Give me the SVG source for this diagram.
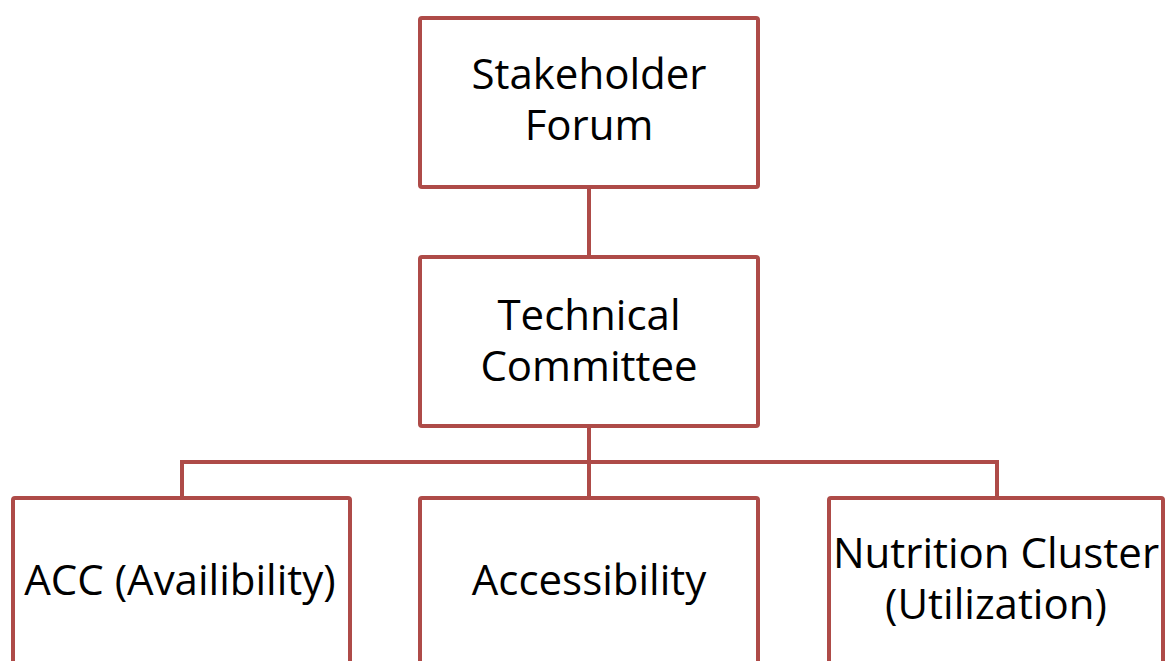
<svg xmlns="http://www.w3.org/2000/svg" width="1165" height="661" viewBox="0 0 1165 661">
<style>
.box{fill:#ffffff;stroke:#ae4b48;stroke-width:4;}
.conn{fill:none;stroke:#ae4b48;stroke-width:4;}
.lbl{font-family:"Open Sans","Liberation Sans",sans-serif;font-size:42px;fill:#000000;text-anchor:middle;}
</style>
<rect width="1165" height="661" fill="#ffffff"/>
<g id="connectors">
<line class="conn" x1="589" y1="187" x2="589" y2="257"/>
<line class="conn" x1="589" y1="426" x2="589" y2="498"/>
<polyline class="conn" points="182,498 182,462 997,462 997,498"/>
</g>
<g id="stakeholder-forum">
<rect class="box" x="420" y="18" width="338" height="169" rx="2"/>
<text class="lbl" x="589" y="89">Stakeholder</text>
<text class="lbl" x="589" y="140">Forum</text>
</g>
<g id="technical-committee">
<rect class="box" x="420" y="257" width="338" height="169" rx="2"/>
<text class="lbl" x="589" y="330">Technical</text>
<text class="lbl" x="589" y="381">Committee</text>
</g>
<g id="acc">
<rect class="box" x="13" y="498" width="337" height="200" rx="2"/>
<text class="lbl" x="180" y="595">ACC (Availibility)</text>
</g>
<g id="accessibility">
<rect class="box" x="420" y="498" width="338" height="200" rx="2"/>
<text class="lbl" x="589" y="595">Accessibility</text>
</g>
<g id="nutrition-cluster">
<rect class="box" x="829" y="498" width="334" height="200" rx="2"/>
<text class="lbl" x="996" y="568">Nutrition Cluster</text>
<text class="lbl" x="996" y="619">(Utilization)</text>
</g>
</svg>
